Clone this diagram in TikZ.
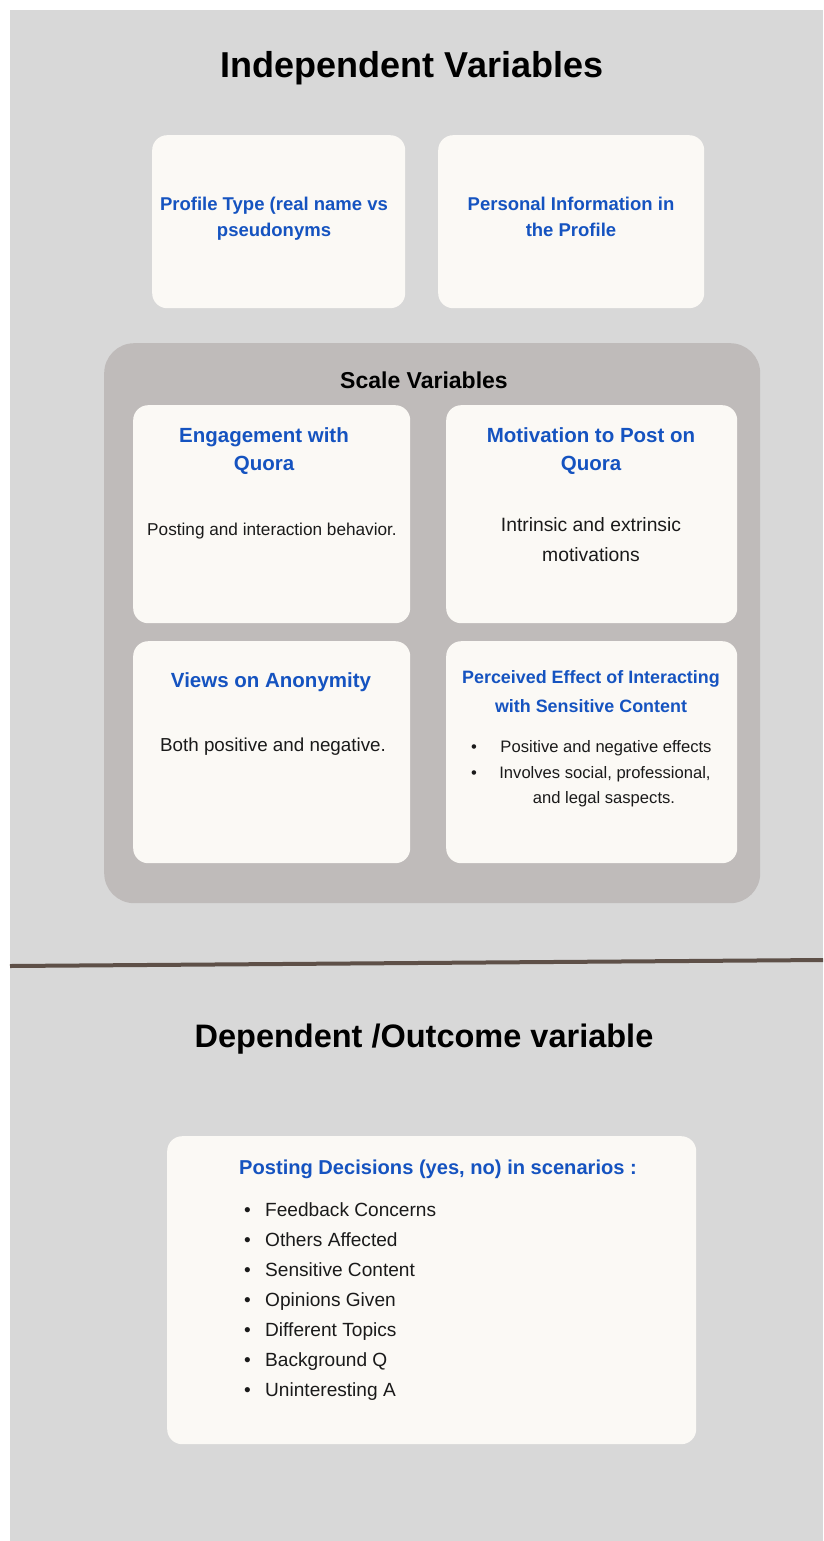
\documentclass[tikz,border=0pt]{standalone}
\usepackage{fontspec}
\setmainfont{Liberation Sans}
\definecolor{bgc}{HTML}{D8D8D8}
\definecolor{grpc}{HTML}{BFBBBA}
\definecolor{cardc}{HTML}{FBF9F5}
\definecolor{qblue}{HTML}{1553C0}
\definecolor{sepc}{HTML}{5E5048}
\definecolor{txt}{HTML}{1A1A1A}
\begin{document}
\begin{tikzpicture}[x=1pt,y=-1pt,
  card/.style={draw=none, fill=cardc, rounded corners=15pt, inner sep=0, anchor=north west},
  bigtitle/.style={font=\fontsize{36}{40}\selectfont\bfseries, text=black, anchor=base, inner sep=0},
  hdtop/.style={font=\fontsize{18.5}{25}\selectfont\bfseries, text=qblue, anchor=base, inner sep=0},
  hdmid/.style={font=\fontsize{20.5}{28}\selectfont\bfseries, text=qblue, anchor=base, inner sep=0},
  hdsmall/.style={font=\fontsize{17.9}{29}\selectfont\bfseries, text=qblue, anchor=base, inner sep=0},
  bodytxt/.style={font=\fontsize{18.8}{30}\selectfont, text=txt, anchor=base, inner sep=0},
  smalltxt/.style={font=\fontsize{16.6}{26}\selectfont, text=txt, anchor=base, inner sep=0},
  itemtxt/.style={font=\fontsize{19.1}{30}\selectfont, text=txt, anchor=base west, inner sep=0},
]
\useasboundingbox (0,0) rectangle (823,1541);
\fill[bgc] (10,10) rectangle (823,1541);

% Title
\node[bigtitle] (t1) at (412,78) {Independent Variables};

% top boxes
\node[card, minimum width=253pt, minimum height=173pt] (prof) at (152,135) {};
\node[hdtop] (prof1) at (274,211) {Profile Type (real name vs};
\node[hdtop] (prof2) at (274,236) {pseudonyms};

\node[card, minimum width=266pt, minimum height=173pt] (pers) at (438,135) {};
\node[hdtop] (pers1) at (571,211) {Personal Information in};
\node[hdtop] (pers2) at (571,236) {the Profile};

% scale group
\node[draw=none, fill=grpc, rounded corners=30pt, inner sep=0, anchor=north west,
      minimum width=656pt, minimum height=560pt] (grp) at (104,343) {};
\node[font=\fontsize{23}{26}\selectfont\bfseries, text=black, anchor=base, inner sep=0] (grpt) at (424,388) {Scale Variables};

% A
\node[card, minimum width=277pt, minimum height=218pt] (ba) at (133,405) {};
\node[hdmid] (ba1) at (264,442) {Engagement with};
\node[hdmid] (ba2) at (264,470) {Quora};
\node[bodytxt, font=\fontsize{17.2}{24}\selectfont] (ba3) at (272,535) {Posting and interaction behavior.};

% B
\node[card, minimum width=291pt, minimum height=218pt] (bb) at (446,405) {};
\node[hdmid] (bb1) at (591,442) {Motivation to Post on};
\node[hdmid] (bb2) at (591,470) {Quora};
\node[bodytxt, font=\fontsize{19.3}{30}\selectfont] (bb3) at (591,531) {Intrinsic and extrinsic};
\node[bodytxt, font=\fontsize{19.3}{30}\selectfont] (bb4) at (591,561) {motivations};

% C
\node[card, minimum width=277pt, minimum height=222pt] (bc) at (133,641) {};
\node[hdmid] (bc1) at (271,687) {Views on Anonymity};
\node[bodytxt] (bc2) at (273,751) {Both positive and negative.};

% D
\node[card, minimum width=291pt, minimum height=222pt] (bd) at (446,641) {};
\node[hdsmall] (bd1) at (591,683) {Perceived Effect of Interacting};
\node[hdsmall] (bd2) at (591,712) {with Sensitive Content};
\node[smalltxt] (bd3b) at (474,752) {•};
\node[smalltxt] (bd3) at (606,752) {Positive and negative effects};
\node[smalltxt] (bd4b) at (474,778) {•};
\node[smalltxt] (bd4) at (605,778) {Involves social, professional,};
\node[smalltxt] (bd5) at (604,803) {and legal saspects.};

% separator
\coordinate (sepL) at (10,966);
\coordinate (sepR) at (823,960);
\draw[sepc, line width=4pt] (sepL) -- (sepR);

% Dependent
\node[bigtitle, font=\fontsize{32.5}{36}\selectfont\bfseries] (t2) at (424,1047) {Dependent /Outcome variable};

\node[card, minimum width=529pt, minimum height=308pt] (be) at (167,1136) {};
\node[hdmid, font=\fontsize{20.1}{26}\selectfont\bfseries, anchor=base west] (be0) at (239,1174) {Posting Decisions (yes, no) in scenarios :};
\foreach \t [count=\i from 0] in {Feedback Concerns,Others Affected,Sensitive Content,Opinions Given,Different Topics,Background Q,Uninteresting A}{
  \node[itemtxt] (bi\i) at (244,1216+30.1*\i) {•};
  \node[itemtxt] (be\i) at (265,1216+30.1*\i) {\t};
}
\end{tikzpicture}
\end{document}
